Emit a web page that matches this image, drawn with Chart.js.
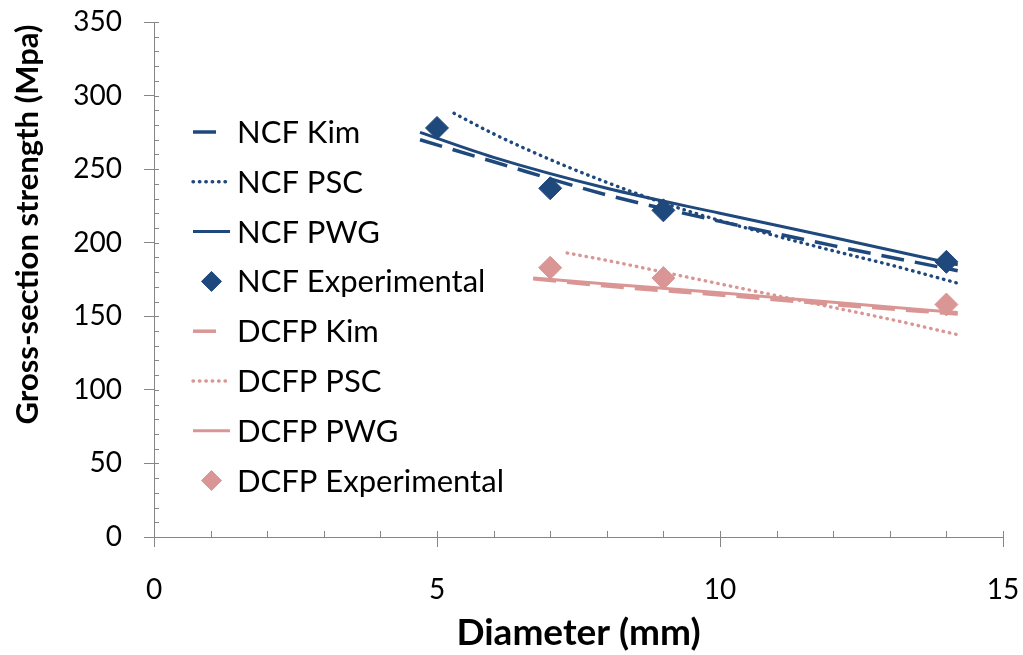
<!DOCTYPE html>
<html>
<head>
<meta charset="utf-8">
<title>Gross-section strength vs diameter</title>
<script src="https://cdn.jsdelivr.net/npm/chart.js@4/dist/chart.umd.min.js"></script>
<style>
  html, body { margin: 0; padding: 0; background: #ffffff; }
  #wrap { width: 1023px; height: 655px; }
</style>
</head>
<body>
<div id="wrap"><canvas id="chart" width="1023" height="655"></canvas></div>
<script>
// ---- data: diameter (mm) and gross-section strength (MPa) ----
const ncfKimD  = [4.7, 6, 8, 10, 12, 14.2];
const ncfKim   = [270, 255, 232.5, 214.5, 198, 181];
const ncfPscD  = [5.3, 6, 7, 8, 9, 10, 11, 12, 13, 14.2];
const ncfPsc   = [288, 274, 256.5, 241, 227, 215, 204.5, 194.5, 185, 172.5];
const ncfPwgD  = [4.7, 6, 8, 10, 12, 14.2];
const ncfPwg   = [275, 258, 237, 220, 203.5, 185];
const ncfExpD  = [5, 7, 9, 14];
const ncfExp   = [278, 237, 222, 187];

const dcfpKimD = [6.7, 8, 10, 12, 14.2];
const dcfpKim  = [175.5, 170.5, 164.5, 158, 151.5];
const dcfpPscD = [7.3, 8, 9, 10, 11, 12, 13, 14.2];
const dcfpPsc  = [193, 188, 180, 172, 164, 156, 148, 137.5];
const dcfpPwgD = [6.7, 8, 10, 12, 14.2];
const dcfpPwg  = [176, 172, 166, 159.5, 152.5];
const dcfpExpD = [7, 9, 14];
const dcfpExp  = [183, 176, 158];

const xTicksStep = 5;
const yTicksStep = 50;

// ---- styling ----
const NAVY = '#1F497D';
const ROSE = '#D99694';
const AXIS = '#868686';
const FONT = 'Lato';

const pts = (xs, ys) => xs.map((x, i) => ({ x: x, y: ys[i] }));

function lineSet(label, xs, ys, color, kind) {
  const ds = {
    label: label,
    data: pts(xs, ys),
    showLine: true,
    borderColor: color,
    backgroundColor: color,
    pointRadius: 0,
    cubicInterpolationMode: 'monotone',
    fill: false
  };
  if (kind === 'dash') {
    ds.borderWidth = 3.5; ds.borderDash = [23, 11]; ds.borderCapStyle = 'butt';
  } else if (kind === 'dot') {
    ds.borderWidth = 3.4; ds.borderDash = [0.5, 5.9]; ds.borderCapStyle = 'round';
  } else {
    ds.borderWidth = 3; ds.borderDash = []; ds.borderCapStyle = 'butt';
  }
  return ds;
}

function markerSet(label, xs, ys, color) {
  return {
    label: label,
    data: pts(xs, ys),
    showLine: false,
    borderColor: color,
    backgroundColor: color,
    pointStyle: 'rectRot',
    pointRadius: 11.5,
    pointBorderWidth: 1
  };
}

const datasets = [
  lineSet('NCF Kim', ncfKimD, ncfKim, NAVY, 'dash'),
  lineSet('NCF PSC', ncfPscD, ncfPsc, NAVY, 'dot'),
  lineSet('NCF PWG', ncfPwgD, ncfPwg, NAVY, 'solid'),
  markerSet('NCF Experimental', ncfExpD, ncfExp, NAVY),
  lineSet('DCFP Kim', dcfpKimD, dcfpKim, ROSE, 'dash'),
  lineSet('DCFP PSC', dcfpPscD, dcfpPsc, ROSE, 'dot'),
  lineSet('DCFP PWG', dcfpPwgD, dcfpPwg, ROSE, 'solid'),
  markerSet('DCFP Experimental', dcfpExpD, dcfpExp, ROSE)
];
// later series are painted on top of earlier ones
datasets.forEach((ds, i) => { ds.order = datasets.length - i; });

// small inward tick marks along both axes
const minorTicks = {
  id: 'minorTicks',
  afterDraw(chart) {
    const { ctx, chartArea: a, scales: { x, y } } = chart;
    ctx.save();
    ctx.strokeStyle = AXIS;
    ctx.lineWidth = 1;
    ctx.beginPath();
    for (let v = x.min; v <= x.max; v += 1) {
      const px = Math.round(x.getPixelForValue(v)) + 0.5;
      ctx.moveTo(px, a.bottom);
      ctx.lineTo(px, a.bottom - 6);
    }
    for (let v = y.min; v <= y.max; v += 10) {
      const py = Math.round(y.getPixelForValue(v)) + 0.5;
      ctx.moveTo(a.left, py);
      ctx.lineTo(a.left + 5, py);
    }
    ctx.stroke();
    ctx.restore();
  }
};

// legend stacked inside the plot, left side
const inlineLegend = {
  id: 'inlineLegend',
  afterDraw(chart) {
    const ctx = chart.ctx;
    const top = 132, row = 49.8, x0 = 193, tx = 237;
    ctx.save();
    chart.data.datasets.forEach((ds, i) => {
      const cy = top + i * row;
      if (ds.showLine) {
        const x1 = ds.borderDash.length ? 227 : 230;
        ctx.beginPath();
        ctx.setLineDash(ds.borderDash);
        ctx.lineCap = ds.borderCapStyle;
        ctx.lineWidth = ds.borderWidth;
        ctx.strokeStyle = ds.borderColor;
        ctx.moveTo(x0, cy);
        ctx.lineTo(x1, cy);
        ctx.stroke();
      } else {
        ctx.setLineDash([]);
        ctx.fillStyle = ds.backgroundColor;
        ctx.strokeStyle = ds.borderColor;
        ctx.lineWidth = 1;
        Chart.helpers.drawPoint(ctx, { pointStyle: 'rectRot', radius: 10, borderWidth: 1 }, 211.5, cy);
      }
      ctx.setLineDash([]);
      ctx.fillStyle = '#000000';
      ctx.font = '31px ' + FONT;
      ctx.textAlign = 'left';
      ctx.textBaseline = 'middle';
      ctx.fillText(ds.label, tx, cy + 1);
    });
    ctx.restore();
  }
};

// vertical axis title
const yTitle = {
  id: 'yTitle',
  afterDraw(chart) {
    const ctx = chart.ctx;
    ctx.save();
    ctx.translate(28, 224.5);
    ctx.rotate(-Math.PI / 2);
    ctx.font = 'bold 31px ' + FONT;
    ctx.fillStyle = '#000000';
    ctx.textAlign = 'center';
    ctx.textBaseline = 'middle';
    ctx.fillText('Gross-section strength (Mpa)', 0, 0);
    ctx.restore();
  }
};

new Chart(document.getElementById('chart'), {
  type: 'scatter',
  data: { datasets: datasets },
  options: {
    responsive: false,
    animation: false,
    events: [],
    layout: { padding: { top: 22, right: 20, left: 0, bottom: 0 } },
    plugins: { legend: { display: false }, tooltip: { enabled: false } },
    scales: {
      x: {
        type: 'linear',
        min: 0, max: 15,
        afterFit(scale) {
          scale.height = 118;
          scale.paddingLeft = 0; scale.paddingRight = 0;
        },
        ticks: { stepSize: xTicksStep, color: '#000000', padding: 26, maxRotation: 0,
                 font: { family: FONT, size: 28 } },
        grid: { drawOnChartArea: false, drawTicks: true, tickLength: 10, color: AXIS, lineWidth: 1 },
        border: { display: true, color: AXIS, width: 1 },
        title: { display: true, text: 'Diameter (mm)', color: '#000000',
                 font: { family: FONT, size: 37, weight: 'bold' }, padding: { top: 0, bottom: 0 } }
      },
      y: {
        type: 'linear',
        min: 0, max: 350,
        afterFit(scale) {
          scale.width = 154;
          scale.paddingTop = 0; scale.paddingBottom = 0;
        },
        ticks: { stepSize: yTicksStep, color: '#000000', padding: 22,
                 font: { family: FONT, size: 28 } },
        grid: { drawOnChartArea: false, drawTicks: true, tickLength: 10, color: AXIS, lineWidth: 1 },
        border: { display: true, color: AXIS, width: 1 }
      }
    }
  },
  plugins: [minorTicks, inlineLegend, yTitle]
});
</script>
</body>
</html>
